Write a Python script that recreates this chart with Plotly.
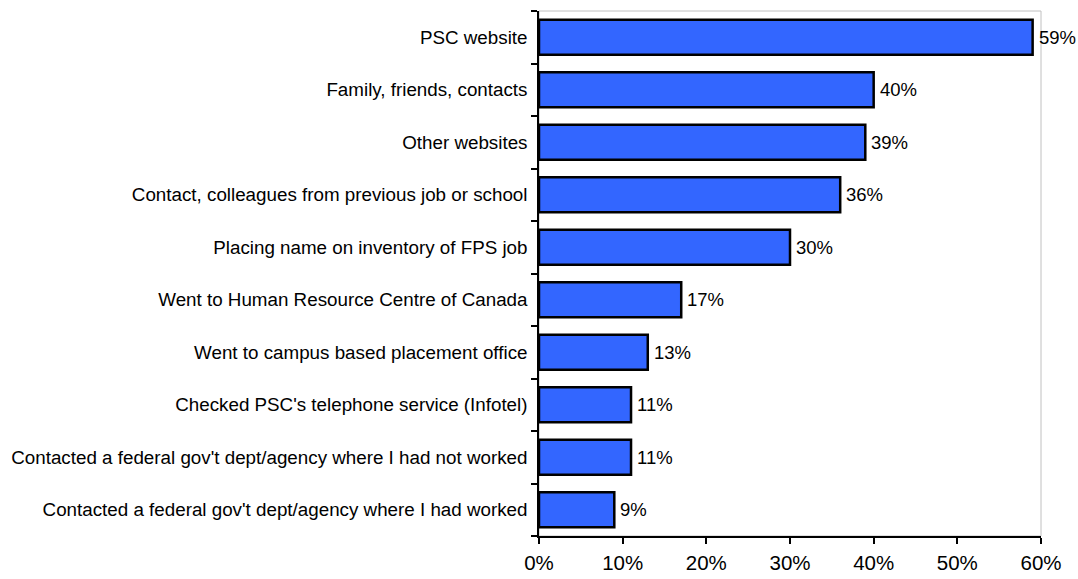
import plotly.graph_objects as go

# Job search methods used (share of respondents)
categories = [
    "PSC website",
    "Family, friends, contacts",
    "Other websites",
    "Contact, colleagues from previous job or school",
    "Placing name on inventory of FPS job",
    "Went to Human Resource Centre of Canada",
    "Went to campus based placement office",
    "Checked PSC's telephone service (Infotel)",
    "Contacted a federal gov't dept/agency where I had not worked",
    "Contacted a federal gov't dept/agency where I had worked",
]
values = [0.59, 0.40, 0.39, 0.36, 0.30, 0.17, 0.13, 0.11, 0.11, 0.09]
x_ticks = [0, 0.1, 0.2, 0.3, 0.4, 0.5, 0.6]
x_tick_labels = ["0%", "10%", "20%", "30%", "40%", "50%", "60%"]

FONT = "Liberation Sans, Arial, sans-serif"

fig = go.Figure(
    go.Bar(
        x=values,
        y=categories,
        orientation="h",
        marker=dict(color="#3366FF", line=dict(color="#000000", width=2.5)),
        hoverinfo="x+y",
    )
)

# value labels just past the end of each bar
for cat, v in zip(categories, values):
    fig.add_annotation(
        x=v, y=cat, xref="x", yref="y",
        text=f"{round(v * 100)}%",
        showarrow=False,
        xanchor="left", yanchor="middle",
        xshift=4,
        font=dict(family=FONT, size=18.5, color="#000000"),
    )

fig.update_layout(
    width=1078,
    height=579,
    margin=dict(l=539, r=37, t=11, b=43),
    paper_bgcolor="white",
    plot_bgcolor="white",
    showlegend=False,
    bargap=0.33,
    font=dict(family=FONT, size=18, color="#000000"),
    shapes=[
        dict(
            type="rect", xref="paper", yref="paper",
            x0=0, x1=1, y0=0, y1=1,
            line=dict(color="#C0C0C0", width=1),
            layer="below",
        )
    ],
)

fig.update_xaxes(
    range=[0, 0.6],
    tickvals=x_ticks,
    ticktext=x_tick_labels,
    automargin=False,
    showgrid=False,
    zeroline=False,
    showline=True,
    linecolor="#000000",
    linewidth=1.5,
    ticks="outside",
    ticklen=6,
    tickwidth=1.5,
    tickcolor="#000000",
    ticklabelstandoff=2,
    tickfont=dict(family=FONT, size=20.5, color="#000000"),
)

fig.update_yaxes(
    type="category",
    categoryorder="array",
    categoryarray=categories[::-1],
    tickson="boundaries",
    automargin=False,
    showgrid=False,
    zeroline=False,
    showline=True,
    linecolor="#000000",
    linewidth=1.5,
    ticks="outside",
    ticklen=6,
    tickwidth=1.5,
    tickcolor="#000000",
    ticklabelstandoff=6,
    tickfont=dict(family=FONT, size=18.8, color="#000000"),
)

fig.write_html("out.html")
